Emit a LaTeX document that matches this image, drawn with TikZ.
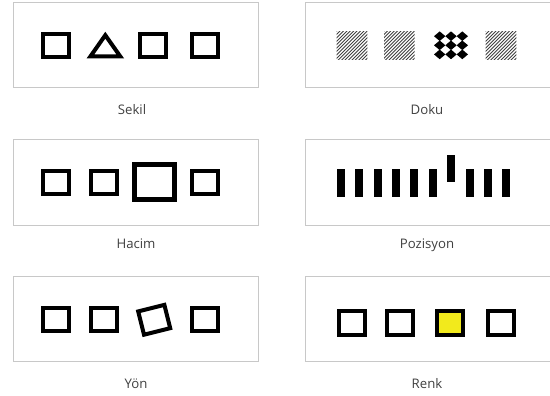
\documentclass[tikz,border=0pt]{standalone}
\usepackage{fontspec}
\setmainfont{Open Sans}
\usepackage{tikz}
\usetikzlibrary{positioning,calc}
\definecolor{framegray}{RGB}{200, 200, 200}
\definecolor{textgray}{RGB}{64, 64, 64}
\definecolor{markyellow}{RGB}{242, 234, 28}

\tikzset{
  panel/.style={draw=framegray, line width=0.8pt, minimum width=245.4pt, minimum height=85.5pt, inner sep=0pt},
  caption/.style={font=\fontsize{13.2}{15}\selectfont, text=textgray, text height=10pt, text depth=3pt, inner sep=0pt},
  sqbox/.style={draw, line width=4pt, minimum width=26pt, minimum height=23.5pt, inner sep=0pt, outer sep=0pt},
  hatch/.style={line width=0.9pt, black!75}
}

\begin{document}
\begin{tikzpicture}[x=1pt, y=-1pt]
  \useasboundingbox (0,0) rectangle (550,396);

  % frames and captions
  \node[panel] (sekil) at (136,44.8) {};
  \node[panel] (doku) at (428.5,44.8) {};
  \node[panel] (hacim) at (136,182.5) {};
  \node[panel] (pozisyon) at (428.5,182.5) {};
  \node[panel] (yon) at (136,318.8) {};
  \node[panel] (renk) at (428.5,318.8) {};

  \node[caption, below=16pt of sekil, xshift=-4pt] (sekiltxt) {Sekil};
  \node[caption, below=16pt of doku, xshift=-1.5pt] (dokutxt) {Doku};
  \node[caption, below=13pt of hacim] (hacimtxt) {Hacim};
  \node[caption, below=13pt of pozisyon, xshift=-1.5pt] (pozisyontxt) {Pozisyon};
  \node[caption, below=16pt of yon] (yontxt) {Yön};
  \node[caption, below=16pt of renk, xshift=-1.5pt] (renktxt) {Renk};

  % Sekil
  \node[sqbox] (sk1) at (55.7,45.3) {};
  \draw[line width=4pt, line join=miter] (90.5,56.3) -- (105.3,35.2) -- (120.2,56.3) -- cycle;
  \node[sqbox] (sk3) at (153,45.3) {};
  \node[sqbox] (sk4) at (205,45.3) {};

  % Doku
  \foreach \hx in {336.7, 384, 485.7} {
    \begin{scope}
      \clip (\hx,31.7) rectangle ++(30.6,27.6);
      \foreach \k in {-30,-26.6,...,32} {
        \draw[hatch] (\hx+\k,61) -- ++(32,-32);
      }
    \end{scope}
  }
  \foreach \cx in {439.7, 451, 462.3} {
    \foreach \cy in {36.2, 45.3, 54.4} {
      \fill (\cx-5.7,\cy) -- (\cx,\cy-4.8) -- (\cx+5.7,\cy) -- (\cx,\cy+4.8) -- cycle;
    }
  }

  % Hacim
  \node[sqbox] (hc1) at (55.7,182.7) {};
  \node[sqbox] (hc2) at (103.7,182.7) {};
  \node[sqbox, line width=5pt, minimum width=40pt, minimum height=35pt] (hc3) at (154.8,182.3) {};
  \node[sqbox] (hc4) at (205,182.7) {};

  % Pozisyon
  \foreach \i in {0,...,9} {
    \ifnum\i=6
      \fill (336.7+18.4*\i,155) rectangle ++(8,27);
    \else
      \fill (336.7+18.4*\i,169) rectangle ++(8,27.7);
    \fi
  }

  % Yon
  \node[sqbox] (yn1) at (55.7,319.7) {};
  \node[sqbox] (yn2) at (103.7,319.7) {};
  \node[sqbox, minimum width=27pt, minimum height=24pt, rotate=14] (yn3) at (154.2,319.8) {};
  \node[sqbox] (yn4) at (205,319.7) {};

  % Renk
  \node[sqbox] (rk1) at (352,323) {};
  \node[sqbox] (rk2) at (399.5,323) {};
  \node[sqbox, fill=markyellow] (rk3) at (450.3,323) {};
  \node[sqbox] (rk4) at (501.2,323) {};
\end{tikzpicture}
\end{document}
